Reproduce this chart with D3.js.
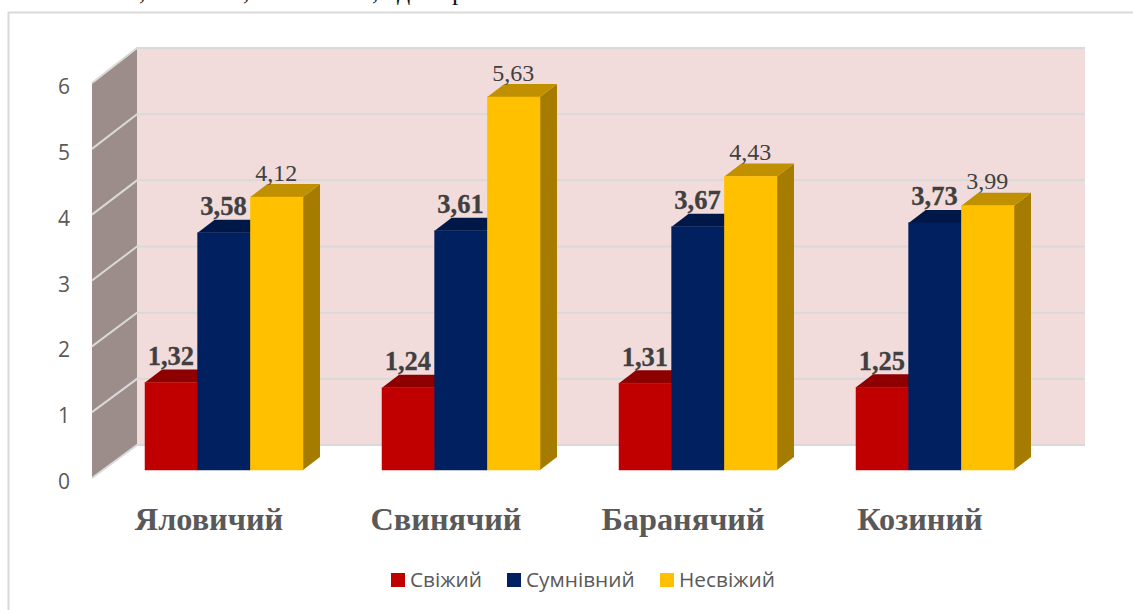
<!DOCTYPE html>
<html>
<head>
<meta charset="utf-8">
<script src="https://cdn.jsdelivr.net/npm/d3@7"></script>
<style>
  html, body { margin: 0; padding: 0; background: #fff; overflow: hidden; }
  .serif { font-family: "Liberation Serif", serif; }
  .sans { font-family: "Open Sans", "Noto Sans", sans-serif; }
</style>
</head>
<body>
<div class="chart"></div>
<script>
var categories = ["Яловичий", "Свинячий", "Баранячий", "Козиний"];
var seriesNames = ["Свіжий", "Сумнівний", "Несвіжий"];
var fresh = [1.32, 1.24, 1.31, 1.25];
var doubtful = [3.58, 3.61, 3.67, 3.73];
var spoiled = [4.12, 5.63, 4.43, 3.99];
var yTicks = [0, 1, 2, 3, 4, 5, 6];
var cutOffTitle = [",", ",", ",", "д", "р"];

var seriesValues = [fresh, doubtful, spoiled];
var frontColors = ["#C00000", "#002060", "#FFC000"];
var topColors = ["#8E0000", "#001848", "#C09000"];
var sideColors = ["#7E0000", "#00153F", "#A67C00"];
var boldLabel = [true, true, false];

var svg = d3.select(".chart").append("svg")
  .attr("width", 1133)
  .attr("height", 610)
  .style("display", "block");

// frame of the chart, the right and bottom edges fall outside the window
svg.append("path")
  .attr("d", "M8.5,610V12.5H1133")
  .attr("fill", "none")
  .attr("stroke", "#D9D9D9")
  .attr("stroke-width", 2);

// what is left of the line of text above the chart
svg.selectAll(".cut")
  .data(cutOffTitle)
  .enter().append("text")
  .attr("class", "cut serif")
  .attr("x", (d, i) => [139, 243, 372, 397, 452][i])
  .attr("y", 0)
  .attr("font-size", 26)
  .attr("fill", "#111")
  .text(d => d);

var floorBack = 445, floorFront = 478, barBase = 470;
var wallLeft = 137, wallRight = 1085, sideLeft = 92;
var depthX = 17, depthY = 13;

var backY = d3.scaleLinear().domain([0, 6]).range([floorBack, 48]);
var frontY = d3.scaleLinear().domain([0, 6]).range([floorFront, 83]);
var barHeight = d3.scaleLinear().domain([0, 6]).range([0, 397.5]);

var xGroup = d3.scaleBand().domain(categories).range([105, 1053]).paddingInner(0).paddingOuter(0);
var xSeries = d3.scaleBand().domain(d3.range(3)).range([0, 158]);
// each group of bars starts 40px inside its band
var groupStart = d => xGroup(d) + 40;

// back wall
svg.append("rect")
  .attr("x", wallLeft)
  .attr("y", backY(6))
  .attr("width", wallRight - wallLeft)
  .attr("height", floorBack - backY(6))
  .attr("fill", "#F2DCDB");

// left wall
svg.append("path")
  .attr("d", `M${sideLeft},${frontY(6)}L${wallLeft},${backY(6)}L${wallLeft},${backY(0)}L${sideLeft},${frontY(0)}Z`)
  .attr("fill", "#9C8D8B");

// gridlines on both walls
svg.selectAll(".grid")
  .data(yTicks)
  .enter().append("path")
  .attr("class", "grid")
  .attr("d", d => `M${sideLeft},${frontY(d)}L${wallLeft},${backY(d)}L${wallRight},${backY(d)}`)
  .attr("fill", "none")
  .attr("stroke", "#D9D9D9")
  .attr("stroke-width", 2);

// bars, red first so the next bar covers its side
categories.forEach(function (cat, c) {
  seriesValues.forEach(function (vals, s) {
    var x0 = groupStart(cat) + xSeries(s);
    var x1 = x0 + xSeries.bandwidth();
    var top = barBase - barHeight(vals[c]);
    var g = svg.append("g");
    g.append("path")
      .attr("d", `M${x1},${top}L${x1 + depthX},${top - depthY}L${x1 + depthX},${barBase - depthY}L${x1},${barBase}Z`)
      .attr("fill", sideColors[s]);
    g.append("path")
      .attr("d", `M${x0},${top}L${x0 + depthX},${top - depthY}L${x1 + depthX},${top - depthY}L${x1},${top}Z`)
      .attr("fill", topColors[s]);
    g.append("rect")
      .attr("x", x0)
      .attr("y", top)
      .attr("width", x1 - x0)
      .attr("height", barHeight(vals[c]))
      .attr("fill", frontColors[s])
      .attr("stroke", frontColors[s])
      .attr("stroke-width", 0.5);
  });
});

// value labels go on top of all the bars
categories.forEach(function (cat, c) {
  seriesValues.forEach(function (vals, s) {
    svg.append("text")
      .attr("class", "serif")
      .attr("x", groupStart(cat) + xSeries(s) + xSeries.bandwidth() / 2 - 0.5)
      .attr("y", barBase - barHeight(vals[c]) - (boldLabel[s] ? 17.5 : 16.5))
      .attr("text-anchor", "middle")
      .attr("font-size", boldLabel[s] ? 26.5 : 24)
      .attr("font-weight", boldLabel[s] ? "bold" : "normal")
      .attr("fill", "#404040")
      .attr("stroke", boldLabel[s] ? "#404040" : "none")
      .attr("stroke-width", 0.3)
      .text(String(vals[c]).replace(".", ","));
  });
});

// y tick labels
svg.selectAll(".ytick")
  .data(yTicks)
  .enter().append("text")
  .attr("class", "ytick sans")
  .attr("x", 64)
  .attr("y", d => frontY(d) + 11)
  .attr("text-anchor", "middle")
  .attr("font-size", 21)
  .attr("fill", "#595959")
  .text(d => d);

// category labels
svg.selectAll(".cat")
  .data(categories)
  .enter().append("text")
  .attr("class", "cat serif")
  .attr("x", d => groupStart(d) + 64)
  .attr("y", 530)
  .attr("text-anchor", "middle")
  .attr("font-size", 32.3)
  .attr("font-weight", "bold")
  .attr("fill", "#595959")
  .text(d => d);

// legend
var legendX = [391, 507, 660];
var legend = svg.selectAll(".legend")
  .data(seriesNames)
  .enter().append("g")
  .attr("class", "legend")
  .attr("transform", (d, i) => `translate(${legendX[i]},573)`);
legend.append("rect")
  .attr("width", 14)
  .attr("height", 14)
  .attr("fill", (d, i) => frontColors[i]);
legend.append("text")
  .attr("class", "sans")
  .attr("x", 19)
  .attr("y", 14)
  .attr("font-size", 20.8)
  .attr("fill", "#595959")
  .text(d => d);
</script>
</body>
</html>
